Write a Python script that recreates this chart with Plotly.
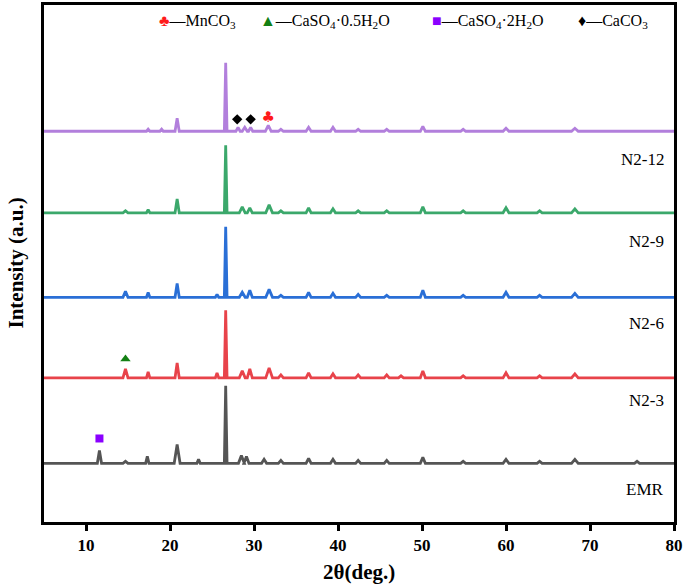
import plotly.graph_objects as go

# ---------------- data ----------------
SAMPLES = ["EMR", "N2-3", "N2-6", "N2-9", "N2-12"]
COLORS = ["#555555", "#e8434a", "#2a6fd6", "#3ba86b", "#b27fdc"]
OFFSETS = [59, 145, 226, 311, 393]

EMR_POS = [11.6, 14.7, 17.3, 20.85, 23.4, 26.63, 28.5, 29.1, 31.2, 33.2, 36.5, 39.4, 42.4, 45.8, 50.1, 54.9, 60.0, 64.0, 68.2, 75.6]
EMR_H   = [13,   2,    7,    19,    4,    78,    8,    7,    4,    3,    5,    4,    3,    3,    6,    2,    4,    2,    4,    2]
EMR_W   = [0.25, 0.3,  0.2,  0.35,  0.2,  0.16,  0.35, 0.3,  0.3,  0.3,  0.3,  0.3,  0.3,  0.3,  0.3,  0.3,  0.35, 0.3,  0.4,  0.3]

N23_POS = [14.7, 17.4, 20.85, 25.6, 26.63, 28.6, 29.5, 31.8, 33.2, 36.5, 39.4, 42.4, 45.8, 47.5, 50.1, 54.9, 60.0, 64.0, 68.2]
N23_H   = [9,    6,    15,    5,    68,    7,    9,    10,   3,    5,    4,    3,    3,    2,    7,    2,    5,    2,    4]
N23_W   = [0.3,  0.2,  0.25,  0.2,  0.16,  0.35, 0.3,  0.4,  0.3,  0.3,  0.3,  0.3,  0.3,  0.3,  0.3,  0.3,  0.35, 0.3,  0.4]

N26_POS = [14.7, 17.4, 20.85, 25.6, 26.63, 28.6, 29.5, 31.8, 33.2, 36.5, 39.4, 42.4, 45.8, 50.1, 54.9, 60.0, 64.0, 68.2]
N26_H   = [6,    5,    14,    3,    71,    5,    7,    8,    2,    5,    4,    3,    2,    7,    2,    5,    2,    4]
N26_W   = [0.3,  0.2,  0.25,  0.2,  0.16,  0.35, 0.3,  0.4,  0.3,  0.3,  0.3,  0.3,  0.3,  0.3,  0.3,  0.35, 0.3,  0.4]

N29_POS = [14.7, 17.4, 20.85, 26.63, 28.6, 29.5, 31.8, 33.2, 36.5, 39.4, 42.4, 45.8, 50.1, 54.9, 60.0, 64.0, 68.2]
N29_H   = [2,    3,    14,    68,    6,    5,    8,    2,    5,    4,    2,    2,    6,    2,    5,    2,    4]
N29_W   = [0.3,  0.2,  0.25,  0.16,  0.35, 0.3,  0.4,  0.3,  0.3,  0.3,  0.3,  0.3,  0.3,  0.3,  0.35, 0.3,  0.4]

N212_POS = [17.4, 19.0, 20.85, 26.63, 28.1, 28.9, 29.6, 31.7, 33.2, 36.5, 39.4, 42.4, 45.8, 50.1, 54.9, 60.0, 68.2]
N212_H   = [2,    2,    13,    69,    4,    4,    4,    6,    2,    4,    4,    2,    2,    5,    2,    3,    3]
N212_W   = [0.2,  0.2,  0.25,  0.16,  0.25, 0.3,  0.25, 0.35, 0.3,  0.3,  0.3,  0.3,  0.3,  0.3,  0.3,  0.35, 0.4]

PEAK_TABLES = [(EMR_POS, EMR_H, EMR_W), (N23_POS, N23_H, N23_W), (N26_POS, N26_H, N26_W),
               (N29_POS, N29_H, N29_W), (N212_POS, N212_H, N212_W)]

# phase markers (2theta, intensity level)
MNCO3_X, MNCO3_Y = [31.7], [406]
CASO4_05_X, CASO4_05_Y = [14.7], [164]
CASO4_2_X, CASO4_2_Y = [11.6], [84]
CACO3_X, CACO3_Y = [28.0, 29.6], [405, 405]

X_TICKS = [10, 20, 30, 40, 50, 60, 70, 80]
X_MIN, X_MAX = 5, 80

# ---------------- figure ----------------
FONT = "Liberation Serif"
fig = go.Figure()

for name, col, off, (pos, hh, ww) in zip(SAMPLES, COLORS, OFFSETS, PEAK_TABLES):
    xs, ys = [X_MIN], [off]
    for p, h, w in zip(pos, hh, ww):
        xs += [p - w, p, p + w]
        ys += [off, off + h, off]
    xs.append(X_MAX)
    ys.append(off)
    fig.add_trace(go.Scatter(x=xs, y=ys, mode="lines", name=name,
                             line=dict(color=col, width=2.8), showlegend=False, hoverinfo="skip"))

fig.add_trace(go.Scatter(x=CASO4_2_X, y=CASO4_2_Y, mode="markers",
                         marker=dict(symbol="square", size=8, color="#8a00ff"), showlegend=False))
fig.add_trace(go.Scatter(x=CASO4_05_X, y=CASO4_05_Y, mode="markers",
                         marker=dict(symbol="triangle-up", size=9, color="#138013"), showlegend=False))
fig.add_trace(go.Scatter(x=CACO3_X, y=CACO3_Y, mode="markers",
                         marker=dict(symbol="diamond", size=8, color="black"), showlegend=False))
fig.add_trace(go.Scatter(x=MNCO3_X, y=MNCO3_Y, mode="text", text=["♣"],
                         textfont=dict(color="#ff1a1a", size=15, family="DejaVu Sans"),
                         showlegend=False))

# sample labels
LABEL_Y = [0.063, 0.235, 0.383, 0.542, 0.702]
for name, yp in zip(SAMPLES, LABEL_Y):
    fig.add_annotation(x=0.987, y=yp, xref="paper", yref="paper", text=name, showarrow=False,
                       xanchor="right", yanchor="middle", font=dict(family=FONT, size=17, color="black"))

# top legend
LEG = [
    (0.179, '<span style="color:#ff1a1a">♣</span>—MnCO<sub>3</sub>'),
    (0.339, '<span style="color:#138013">▲</span>—CaSO<sub>4</sub>·0.5H<sub>2</sub>O'),
    (0.612, '<span style="color:#8a00ff">■</span>—CaSO<sub>4</sub>·2H<sub>2</sub>O'),
    (0.845, '<span style="color:black">♦</span>—CaCO<sub>3</sub>'),
]
for xp, txt in LEG:
    fig.add_annotation(x=xp, y=0.969, xref="paper", yref="paper", text=txt, showarrow=False,
                       xanchor="left", yanchor="middle", font=dict(family=FONT, size=16, color="black"))

# axis titles
fig.add_annotation(x=0.5, y=-0.096, xref="paper", yref="paper", text="<b>2θ(deg.)</b>", showarrow=False,
                   xanchor="center", yanchor="middle", font=dict(family=FONT, size=21, color="black"))
fig.add_annotation(x=-0.046, y=0.5, xref="paper", yref="paper", text="<b>Intensity (a.u.)</b>",
                   showarrow=False, textangle=-90, xanchor="center", yanchor="middle",
                   font=dict(family=FONT, size=21, color="black"))

fig.update_xaxes(range=[X_MIN, X_MAX], tickvals=X_TICKS, ticktext=[f"<b>{t}</b>" for t in X_TICKS],
                 ticks="outside", ticklen=6, tickwidth=2.5, tickcolor="black",
                 showline=True, linecolor="black", linewidth=2.5, mirror=True,
                 showgrid=False, zeroline=False, ticklabeloverflow="allow",
                 tickfont=dict(family=FONT, size=17, color="black"))
fig.update_yaxes(range=[0, 520], showticklabels=False, ticks="",
                 showline=True, linecolor="black", linewidth=2.5, mirror=True,
                 showgrid=False, zeroline=False)

fig.update_layout(width=685, height=587, margin=dict(l=44, r=8, t=2, b=65),
                  plot_bgcolor="white", paper_bgcolor="white")

fig.write_html("out.html", config={"displayModeBar": False},
               post_script="document.body.style.margin='0';document.body.style.overflow='hidden';")
